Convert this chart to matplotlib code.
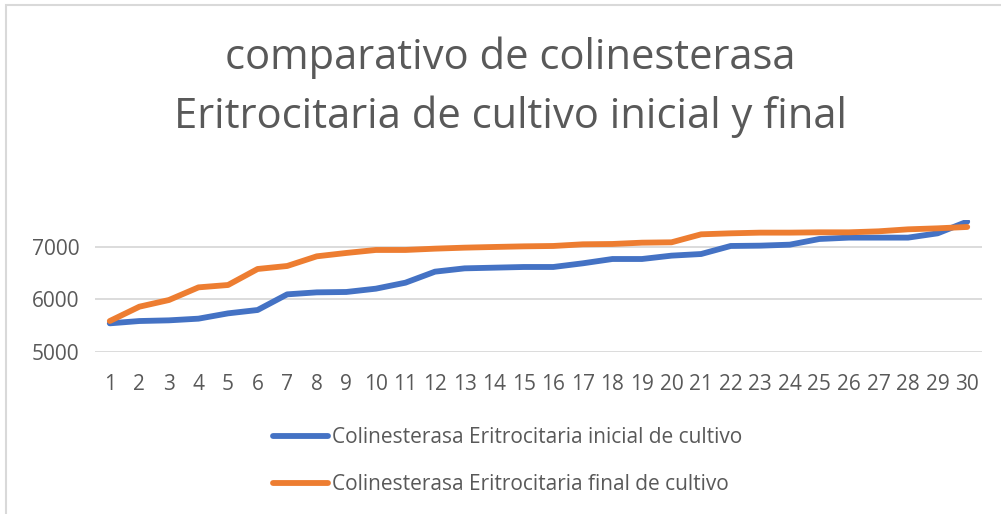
import matplotlib
matplotlib.use("Agg")
import matplotlib.pyplot as plt
from matplotlib.patches import Rectangle

# Sample numbers (1..30) and cholinesterase readings
samples = list(range(1, 31))
inicial = [5540, 5584, 5597, 5629, 5730, 5794, 6092, 6130, 6137, 6200,
           6314, 6524, 6587, 6600, 6613, 6613, 6683, 6765, 6765, 6829,
           6860, 7013, 7019, 7038, 7146, 7172, 7172, 7172, 7254, 7477]
final = [5584, 5857, 5984, 6225, 6270, 6575, 6632, 6816, 6880, 6937,
         6937, 6962, 6981, 6994, 7006, 7013, 7045, 7051, 7076, 7083,
         7235, 7254, 7267, 7267, 7273, 7273, 7292, 7330, 7349, 7375]
yticks = [5000, 6000, 7000]

title = "comparativo de colinesterasa\nEritrocitaria de cultivo inicial y final"
label_inicial = "Colinesterasa Eritrocitaria inicial de cultivo"
label_final = "Colinesterasa Eritrocitaria final de cultivo"

plt.rcParams['font.family'] = ['Open Sans', 'DejaVu Sans']
text_color = "#595959"

W, H = 1001, 514
fig = plt.figure(figsize=(W / 100, H / 100), dpi=100)
fig.patch.set_facecolor("white")

# Chart-area border (left and top edges visible)
fig.add_artist(Rectangle((6 / W, -0.02), 1.2, 1 - 5 / H + 0.02,
                         transform=fig.transFigure, fill=False,
                         edgecolor="#d9d9d9", linewidth=1.5))

ax = fig.add_axes([95 / W, 1 - 351.7 / H, (982 - 95) / W, (351.7 - 220.4) / H])
ax.plot(samples, inicial, color="#4472C4", linewidth=4.2,
        solid_capstyle="round", solid_joinstyle="round", label=label_inicial)
ax.plot(samples, final, color="#ED7D31", linewidth=4.2,
        solid_capstyle="round", solid_joinstyle="round", label=label_final)

ax.set_xlim(0.5, 30.5)
ax.set_ylim(5000, 7500)
ax.set_xticks(samples)
ax.set_xticklabels([str(s) for s in samples])
ax.set_yticks(yticks)
ax.set_yticklabels([str(v) for v in yticks])
ax.grid(axis="y", color="#d9d9d9", linewidth=1.3)
ax.set_axisbelow(True)
for sp in ax.spines.values():
    sp.set_visible(False)
ax.tick_params(axis="both", length=0, labelsize=15, colors=text_color)
ax.tick_params(axis="x", pad=16)
ax.tick_params(axis="y", pad=11)

fig.text(510 / W, 1 - 87 / H, title, ha="center", va="center",
         fontsize=30, color=text_color, linespacing=1.5)

leg = ax.legend(loc="upper left", bbox_to_anchor=(265 / W, 1 - 419 / H),
                bbox_transform=fig.transFigure, frameon=False,
                fontsize=15, handlelength=2.6, handletextpad=0.2,
                labelspacing=1.25, borderaxespad=0)
for t in leg.get_texts():
    t.set_color(text_color)

fig.savefig("out.png", dpi=100, facecolor="white")
